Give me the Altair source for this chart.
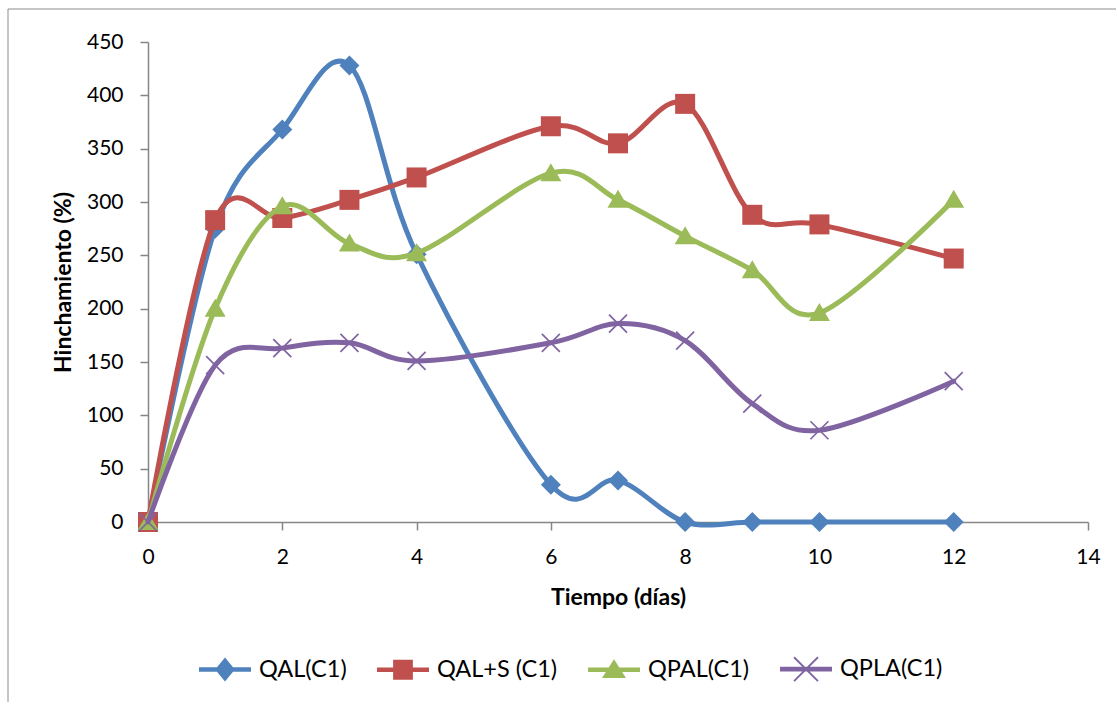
import altair as alt
import pandas as pd

# ---- data ----
dias = [0, 1, 2, 3, 4, 6, 7, 8, 9, 10, 12]
qal = [0, 275, 368, 428, 251, 35, 39, 0, 0, 0, 0]
qal_s = [0, 283, 285, 302, 323, 371, 355, 392, 288, 279, 247]
qpal = [0, 200, 296, 261, 252, 327, 302, 268, 236, 196, 302]
qpla = [0, 147, 163, 168, 151, 168, 186, 170, 111, 86, 132]

series = ["QAL(C1)", "QAL+S (C1)", "QPAL(C1)", "QPLA(C1)"]
colors = ["#4F81BD", "#C0504D", "#9BBB59", "#8064A2"]
x_ticks = [0, 2, 4, 6, 8, 10, 12, 14]
y_ticks = [0, 50, 100, 150, 200, 250, 300, 350, 400, 450]

values = [qal, qal_s, qpal, qpla]
rows = []
for name, vals in zip(series, values):
    for d, v in zip(dias, vals):
        rows.append({"dia": d, "valor": v, "serie": name})
df = pd.DataFrame(rows)


# ---- marker shapes (custom SVG paths) ----
def poly(pts):
    return "M" + "L".join(f"{x:.3f},{y:.3f}" for x, y in pts) + "Z"


def diamond(w, h):
    return poly([(0, -h), (w, 0), (0, h), (-w, 0)])


def square(s):
    return poly([(-s, -s), (s, -s), (s, s), (-s, s)])


def triangle(w, top, bot):
    return poly([(0, top), (w, bot), (-w, bot)])


def xcross(s, a):
    p1 = poly([(-s + a, -s - a), (s + a, s - a), (s - a, s + a), (-s - a, -s + a)])
    p2 = poly([(-s + a, s + a), (-s - a, s - a), (s - a, -s - a), (s + a, -s + a)])
    return p1 + p2


def hline(h):
    return poly([(-1, -h), (1, -h), (1, h), (-1, h)])


plot_shapes = [diamond(1.0, 1.0), square(1.0), triangle(1.05, -1.0, 0.8), xcross(0.9, 0.06)]
legend_shapes = [
    hline(0.09) + diamond(0.38, 0.46),
    hline(0.09) + square(0.38),
    hline(0.09) + triangle(0.46, -0.40, 0.32),
    hline(0.09) + xcross(0.46, 0.025),
]

W, H = 940, 480

x_scale = alt.Scale(domain=[0, 14], nice=False, zero=False)
x_axis = alt.Axis(values=x_ticks, title="Tiempo (días)", titlePadding=19, labelPadding=16, labelFlush=False)
x_enc = alt.X("dia:Q", scale=x_scale, axis=x_axis)
y_enc = alt.Y(
    "valor:Q",
    scale=alt.Scale(domain=[0, 450], nice=False),
    axis=alt.Axis(values=y_ticks, title="Hinchamiento (%)", titlePadding=11, labelPadding=17),
)
color_plain = alt.Color("serie:N", scale=alt.Scale(domain=series, range=colors), legend=None)

base = alt.Chart(df)
layers = []
for name, shp in zip(series, plot_shapes):
    sub = base.transform_filter(alt.datum.serie == name)
    layers.append(
        sub.mark_line(interpolate="cardinal", strokeWidth=5, strokeJoin="round", strokeCap="round").encode(
            x=x_enc, y=y_enc, color=color_plain
        )
    )
    layers.append(
        sub.mark_point(filled=True, shape=shp, size=400, opacity=1, strokeWidth=0).encode(
            x=x_enc, y=y_enc, color=color_plain
        )
    )

legend_def = alt.Legend(
    title=None,
    orient="none",
    legendX=51,
    legendY=601,
    direction="horizontal",
    symbolSize=2704,
    symbolStrokeWidth=0,
    symbolOpacity=1,
    labelFont="Lato",
    labelFontSize=23.5,
    labelColor="black",
    labelOffset=8,
    columnPadding=30,
    padding=0,
)
# legend-only layer: its points are placed outside the x domain and clipped away
legend_layer = base.transform_calculate(fuera="-50").mark_point(
    filled=True, size=2704, opacity=1, strokeWidth=0, clip=True
).encode(
    x=alt.X("fuera:Q", scale=x_scale, axis=x_axis),
    y=y_enc,
    color=alt.Color("serie:N", scale=alt.Scale(domain=series, range=colors), legend=legend_def),
    shape=alt.Shape("serie:N", scale=alt.Scale(domain=series, range=legend_shapes), legend=legend_def),
)

one = alt.Data(values=[{}])
border_left = alt.Chart(one).mark_rule(color="#8c8c8c", strokeWidth=1).encode(
    x=alt.value(-140), y=alt.value(-33), y2=alt.value(660)
)
border_top = alt.Chart(one).mark_rule(color="#8c8c8c", strokeWidth=1).encode(
    x=alt.value(-140), x2=alt.value(968), y=alt.value(-33)
)

chart = (
    alt.layer(border_left, border_top, *layers, legend_layer)
    .resolve_scale(color="independent", shape="independent")
    .properties(width=W, height=H, background="white",
                padding={"left": 7, "top": 8, "right": 0, "bottom": 0})
    .configure_view(stroke=None)
    .configure_axis(
        grid=False,
        domainColor="#868686",
        domainWidth=1.5,
        tickColor="#868686",
        tickWidth=1.5,
        tickSize=8,
        labelFont="Lato",
        labelFontSize=21,
        labelColor="black",
        titleFont="Lato",
        titleFontSize=23,
        titleFontWeight="bold",
        titleColor="black",
    )
)

chart.save("out.html", embed_options={"renderer": "svg", "actions": False})
